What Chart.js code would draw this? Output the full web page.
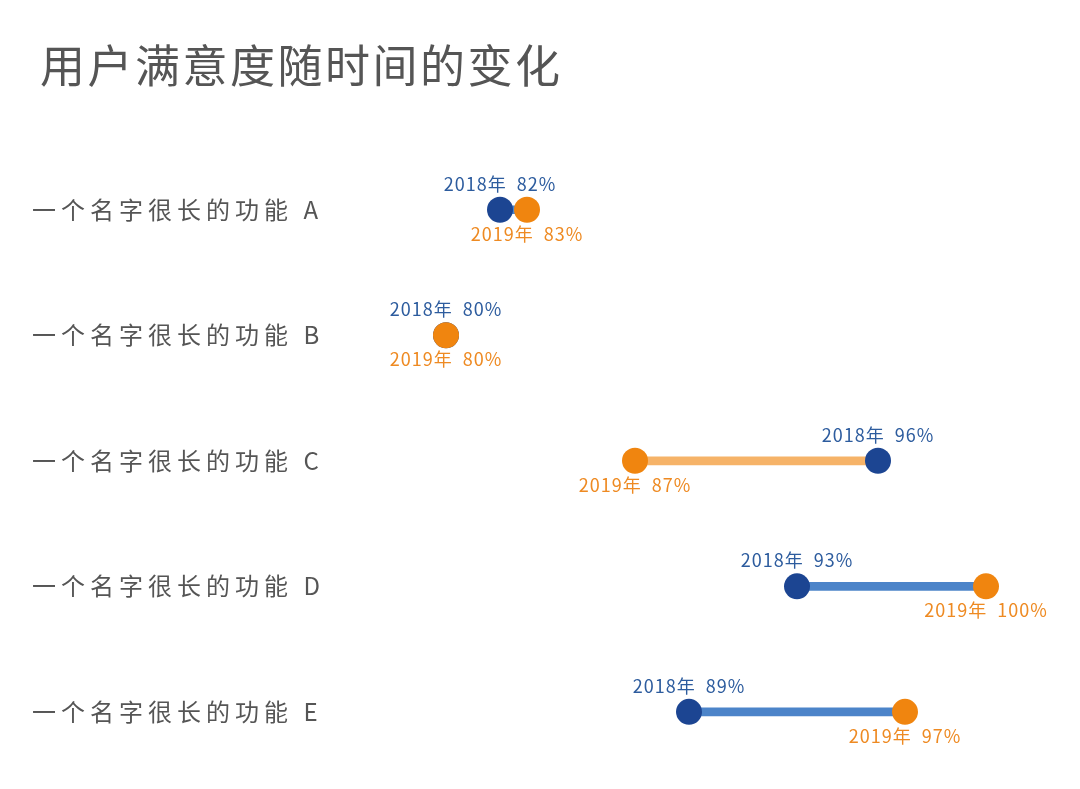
<!DOCTYPE html>
<html>
<head>
<meta charset="utf-8">
<script src="https://cdn.jsdelivr.net/npm/chart.js@4"></script>
<style>
  body { margin: 0; background: #fff; }
  #wrap { width: 1080px; height: 789px; position: relative; }
</style>
</head>
<body>
<div id="wrap"><canvas id="myChart"></canvas></div>
<script>
const chartTitle = '用户满意度随时间的变化';
const features = ['一个名字很长的功能 A', '一个名字很长的功能 B', '一个名字很长的功能 C', '一个名字很长的功能 D', '一个名字很长的功能 E'];
const years = ['2018', '2019'];
const sat2018 = [82, 80, 96, 93, 89];
const sat2019 = [83, 80, 87, 100, 97];

const blueDot = '#1c4592';
const orangeDot = '#f0850f';
const blueText = '#2d5c9e';
const orangeText = '#ee8a22';
const upLine = '#4c84c9';
const downLine = '#f6b368';
const FONT = '"Noto Sans CJK SC", "Noto Sans", sans-serif';

// connecting bars, coloured by direction of change
const ranges = sat2018.map((v, i) => [Math.min(v, sat2019[i]), Math.max(v, sat2019[i])]);
const rangeColors = sat2018.map((v, i) => sat2019[i] >= v ? upLine : downLine);

const titlePlugin = {
	id: 'bigTitle',
	beforeDraw(chart) {
		const ctx = chart.ctx;
		ctx.save();
		ctx.letterSpacing = '2.5px';
		ctx.font = '45px ' + FONT;
		ctx.fillStyle = '#555';
		ctx.textBaseline = 'middle';
		ctx.textAlign = 'left';
		ctx.fillText(chartTitle, 40, 66);
		ctx.restore();
		// spacing for the category labels on the y axis
		ctx.letterSpacing = '5px';
	},
	beforeDatasetsDraw(chart) {
		chart.ctx.letterSpacing = '0px';
	},
	afterDatasetsDraw(chart) {
		const ctx = chart.ctx;
		ctx.save();
		ctx.letterSpacing = '1px';
		ctx.font = '18px ' + FONT;
		ctx.textAlign = 'center';
		ctx.textBaseline = 'middle';
		[[1, sat2018, years[0], blueText, -26], [2, sat2019, years[1], orangeText, 24]].forEach(([idx, vals, yr, col, dy]) => {
			chart.getDatasetMeta(idx).data.forEach((pt, i) => {
				ctx.fillStyle = col;
				ctx.fillText(yr + '年  ' + vals[i] + '%', pt.x, pt.y + dy);
			});
		});
		ctx.restore();
	}
};

const ctx = document.getElementById('myChart').getContext('2d');

const myChart = new Chart(ctx, {
	type: 'bar',
	data: {
		labels: features,
		datasets: [{
			label: 'change',
			data: ranges,
			backgroundColor: rangeColors,
			barThickness: 8,
			borderSkipped: false,
			order: 3
		}, {
			type: 'line',
			label: years[0],
			data: sat2018,
			showLine: false,
			pointRadius: 13,
			pointHoverRadius: 13,
			pointBackgroundColor: blueDot,
			pointBorderWidth: 0,
			clip: false,
			order: 2
		}, {
			type: 'line',
			label: years[1],
			data: sat2019,
			showLine: false,
			pointRadius: 13,
			pointHoverRadius: 13,
			pointBackgroundColor: orangeDot,
			pointBorderWidth: 0,
			clip: false,
			order: 1
		}]
	},
	options: {
		indexAxis: 'y',
		responsive: true,
		maintainAspectRatio: false,
		animation: false,
		layout: { padding: { left: 32, right: 94, top: 147, bottom: 12 } },
		plugins: {
			legend: { display: false },
			tooltip: { enabled: false },
			title: { display: false }
		},
		scales: {
			x: {
				type: 'linear',
				min: 80,
				max: 100,
				display: false
			},
			y: {
				type: 'category',
				grid: { display: false },
				border: { display: false },
				ticks: {
					crossAlign: 'far',
					padding: 0,
					color: '#555',
					font: { family: FONT, size: 24 }
				},
				afterFit(scale) { scale.width = 414; }
			}
		}
	},
	plugins: [titlePlugin]
});
</script>
</body>
</html>
